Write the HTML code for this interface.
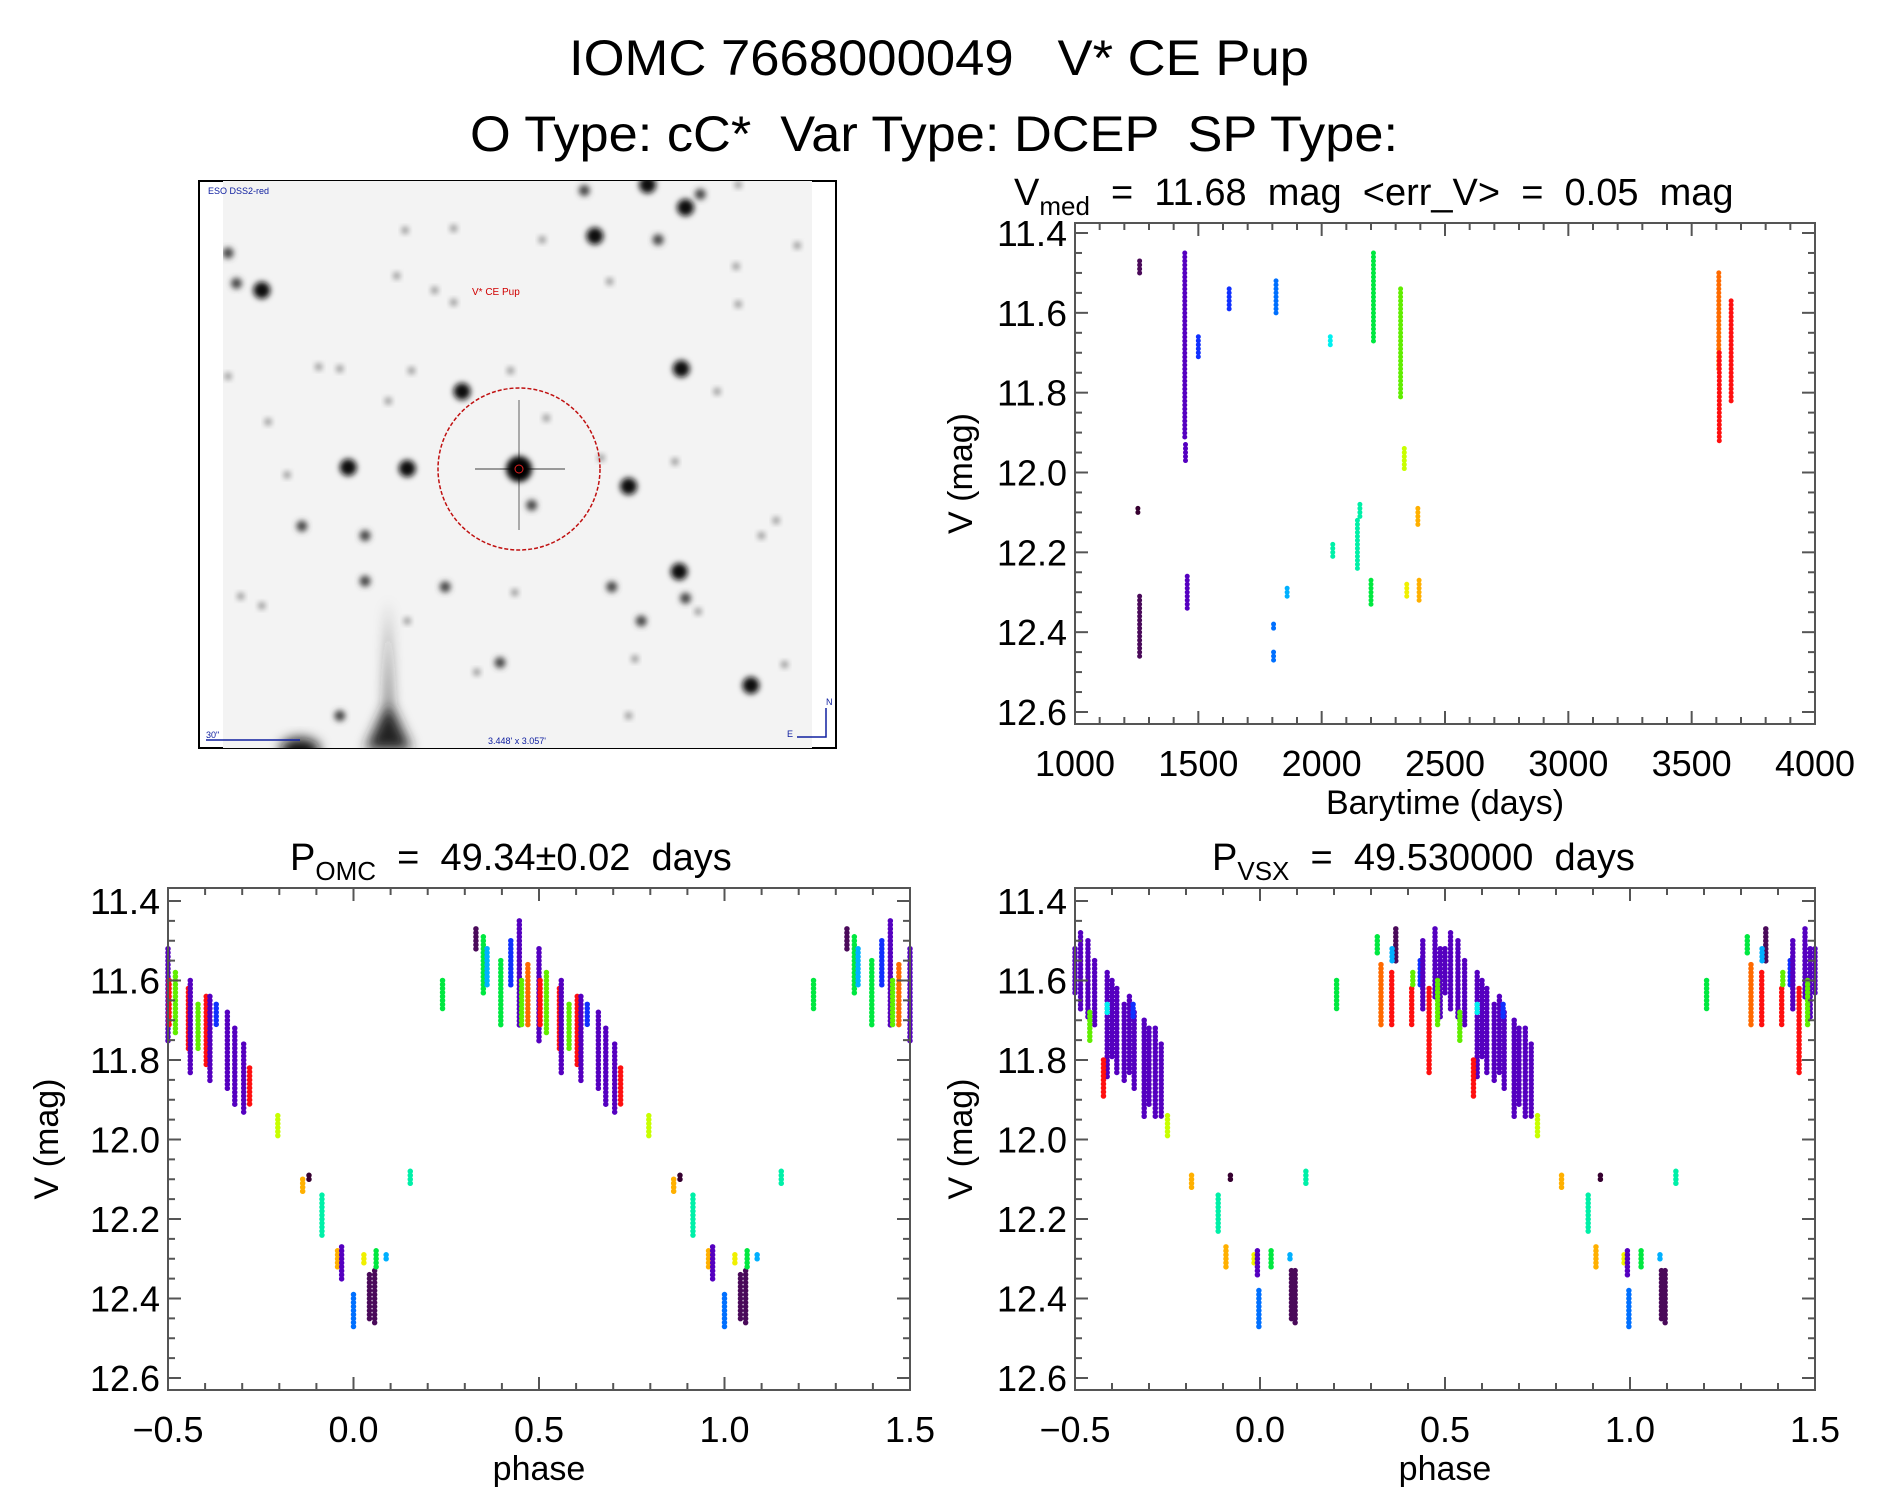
<!DOCTYPE html>
<html><head><meta charset="utf-8"><style>
html,body{margin:0;padding:0;background:#fff;}
svg text{font-family:"Liberation Sans",sans-serif;fill:#000;}
</style></head><body>
<svg id="fig" xmlns="http://www.w3.org/2000/svg" width="1889" height="1494" viewBox="0 0 1889 1494">
<defs>
<filter id="blur" x="-50%" y="-50%" width="200%" height="200%"><feGaussianBlur stdDeviation="2.8"/></filter>
<filter id="blur2" x="-50%" y="-50%" width="200%" height="200%"><feGaussianBlur stdDeviation="6"/></filter>
<clipPath id="imgclip"><rect x="223" y="181" width="589" height="567"/></clipPath>
</defs>
<rect width="1889" height="1494" fill="#fff"/>
<text x="569" y="75" font-size="50" textLength="740" lengthAdjust="spacingAndGlyphs" xml:space="preserve">IOMC 7668000049   V* CE Pup</text>
<text x="470" y="151" font-size="50" textLength="928" lengthAdjust="spacingAndGlyphs" xml:space="preserve">O Type: cC*  Var Type: DCEP  SP Type:</text>

<g id="sky">
<rect x="199" y="181" width="637" height="567" fill="none" stroke="#000" stroke-width="2"/>
<rect x="223" y="181" width="589" height="567" fill="#f3f3f3"/>
<g id="stars" clip-path="url(#imgclip)"></g>
<ellipse cx="519" cy="469" rx="81" ry="81" fill="none" stroke="#c01010" stroke-width="1.5" stroke-dasharray="4 2"/>
<text x="472" y="295" font-size="10" fill="#d00000" style="fill:#d00000">V* CE Pup</text>
<text x="208" y="194" font-size="9" style="fill:#1020a0">ESO DSS2-red</text>
<text x="206" y="738" font-size="9" style="fill:#1020a0">30"</text>
<line x1="206" y1="740" x2="300" y2="740" stroke="#1020a0" stroke-width="1.5"/>
<text x="488" y="744" font-size="9" style="fill:#1020a0">3.448' x 3.057'</text>
<path d="M826 708 V737 H797" fill="none" stroke="#1020a0" stroke-width="1.5"/>
<text x="826" y="705" font-size="9" style="fill:#1020a0">N</text>
<text x="787" y="737" font-size="9" style="fill:#1020a0">E</text>
</g>
<g id="plots"></g>
</svg>
<script>
// ---- data ----
const palette = ['#4a0a5a','#360030','#5500c0','#1030ff','#0070ff','#00b0ff','#00f0f0','#00f0a8','#00e840','#60ee00','#c8ff00','#f0f000','#ffb000','#ff6a00','#ff1010'];
// light curve streaks: [barytime, magTop, magBottom, colorIdx]
const lcTimes = [1262,1255,1262,1445,1448,1455,1500,1625,1815,1805,1805,1860,2035,2045,2145,2155,2200,2210,2320,2335,2345,2395,2390,3610,3612,3660];
const lcTop   = [11.47,12.09,12.31,11.45,11.93,12.26,11.66,11.54,11.52,12.38,12.45,12.29,11.66,12.18,12.12,12.08,12.27,11.45,11.54,11.94,12.28,12.27,12.09,11.50,11.70,11.57];
const lcBot   = [11.51,12.11,12.47,11.92,11.98,12.35,11.72,11.60,11.61,12.40,12.48,12.32,11.69,12.22,12.25,12.12,12.34,11.68,11.82,12.00,12.32,12.33,12.14,11.75,11.93,11.83];
const lcColor = [0,1,0,2,2,2,3,3,4,4,4,5,6,7,7,7,8,8,9,10,11,12,12,13,14,14];
// OMC-period folded streaks (phase in [0,1))
const omcPhase = [0.33,0.35,0.36,0.397,0.424,0.447,0.453,0.47,0.50,0.503,0.52,0.555,0.56,0.581,0.603,0.613,0.63,0.66,0.68,0.704,0.72,0.796,0.24,0.153,0.863,0.88,0.915,0.957,0.968,0.0,0.028,0.043,0.057,0.061,0.088];
const omcTop   = [11.47,11.49,11.52,11.55,11.50,11.45,11.60,11.56,11.52,11.60,11.58,11.62,11.60,11.66,11.64,11.64,11.66,11.68,11.72,11.76,11.82,11.94,11.60,12.08,12.10,12.09,12.14,12.28,12.27,12.39,12.29,12.34,12.33,12.28,12.29];
const omcBot   = [11.53,11.64,11.62,11.72,11.62,11.72,11.72,11.72,11.76,11.72,11.74,11.78,11.84,11.78,11.82,11.86,11.72,11.88,11.92,11.94,11.92,12.00,11.68,12.12,12.14,12.11,12.25,12.33,12.36,12.48,12.32,12.46,12.47,12.33,12.31];
const omcColor = [0,8,5,8,3,2,9,13,2,14,9,14,2,9,14,2,3,2,2,2,14,10,8,7,12,1,7,12,2,4,11,0,0,8,5];
// VSX-period folded streaks
const vsxPhase = [0.50,0.515,0.535,0.553,0.587,0.60,0.613,0.633,0.647,0.66,0.687,0.70,0.717,0.733,0.367,0.433,0.44,0.473,0.487,0.577,0.356,0.41,0.457,0.327,0.54,0.317,0.413,0.48,0.587,0.657,0.357,0.75,0.207,0.815,0.92,0.887,0.124,0.908,0.984,0.993,0.997,0.03,0.081,0.085,0.095];
const vsxTop   = [11.52,11.48,11.50,11.55,11.58,11.60,11.62,11.66,11.64,11.68,11.70,11.72,11.72,11.76,11.47,11.55,11.50,11.47,11.52,11.80,11.58,11.62,11.62,11.56,11.68,11.49,11.58,11.60,11.66,11.66,11.52,11.94,11.60,12.09,12.09,12.14,12.08,12.27,12.29,12.28,12.38,12.28,12.29,12.33,12.33];
const vsxBot   = [11.64,11.68,11.70,11.72,11.85,11.80,11.84,11.86,11.84,11.88,11.95,11.92,11.95,11.95,11.56,11.62,11.68,11.65,11.70,11.90,11.72,11.72,11.84,11.72,11.76,11.54,11.62,11.72,11.69,11.70,11.56,12.00,11.68,12.13,12.11,12.24,12.12,12.33,12.32,12.35,12.48,12.33,12.31,12.46,12.47];
const vsxColor = [2,2,2,2,2,2,2,2,2,2,2,2,2,2,0,3,2,2,2,14,14,14,14,13,9,8,9,9,6,3,5,10,8,12,1,7,7,12,11,2,4,8,5,0,0];
const yTicks = [11.4,11.6,11.8,12.0,12.2,12.4,12.6];
const yTickLabels = ['11.4','11.6','11.8','12.0','12.2','12.4','12.6'];
const timeTicks = [1000,1500,2000,2500,3000,3500,4000];
const timeTickLabels = ['1000','1500','2000','2500','3000','3500','4000'];
const phaseTicks = [-0.5,0,0.5,1.0,1.5];
const phaseTickLabels = ['\u22120.5','0.0','0.5','1.0','1.5'];
// sky image stars: [x, y, size] in image pixel units
const stars = [[1085,40,3],[1175,100,3],[1210,65,2],[960,175,3],[1110,185,2],[935,55,2],[835,185,1],[510,160,1],[625,155,1],[90,220,2],[110,300,2],[170,318,3],[490,280,1],[625,350,1],[580,318,1],[645,585,3],[1165,525,3],[1250,585,1],[1295,255,1],[995,295,1],[845,655,1],[375,785,3],[515,788,3],[1040,835,3],[810,885,2],[1160,1060,3],[1175,1130,2],[1070,1190,2],[1000,1100,2],[605,1100,2],[415,1085,2],[415,965,2],[265,940,2],[770,1115,1],[735,1300,2],[680,1325,1],[1330,1360,3],[355,1440,2],[1410,1305,1],[1355,965,1],[1390,925,1],[515,1190,1],[470,610,1],[305,520,1],[355,525,1],[525,530,1],[760,530,1],[975,760,1],[1150,770,1],[1055,1290,1],[1040,1440,1],[1300,40,1],[1440,200,1],[1300,355,1],[90,545,1],[1205,1165,1],[185,665,1],[230,805,1],[120,1125,1],[170,1150,1]];

const NS='http://www.w3.org/2000/svg';
function el(tag, attrs, parent){const e=document.createElementNS(NS,tag);for(const k in attrs)e.setAttribute(k,attrs[k]);parent.appendChild(e);return e;}

// sky
const sg=document.getElementById('stars');
const sx=v=>223+(v-78)/1397*589, sy=v=>181+(v-30)/1495*567;
const sizes=[0,3.5,5.5,8.5];
stars.forEach(s=>{
  const c=el('circle',{cx:sx(s[0]),cy:sy(s[1]),r:sizes[s[2]],fill:s[2]===3?'#111':(s[2]===2?'#444':'#888'),filter:'url(#blur)'},sg);
  
  
});
// main star and spikes
el('line',{x1:475,y1:469,x2:565,y2:469,stroke:'#999','stroke-width':2},sg);
el('line',{x1:519,y1:400,x2:519,y2:530,stroke:'#aaa','stroke-width':2},sg);
el('circle',{cx:519,cy:469,r:13,fill:'#000',filter:'url(#blur)'},sg);
el('path',{d:'M365 750 L386 705 L388 600 L391 705 L412 750 Z',fill:'#222',filter:'url(#blur2)'},sg);
el('ellipse',{cx:300,cy:750,rx:20,ry:12,fill:'#111',filter:'url(#blur2)'},sg);
el('circle',{cx:519,cy:469,r:4,fill:'none',stroke:'#e02020','stroke-width':1},sg);

// plotting
const plots=document.getElementById('plots');
function makePlot(cfg){
  const g=el('g',{},plots);
  
  
  const X=v=>cfg.x0+(v-cfg.xmin)/(cfg.xmax-cfg.xmin)*(cfg.x1-cfg.x0);
  const Y=v=>cfg.ya+(v-11.4)/1.2*(cfg.yb-cfg.ya);
  const mg=el('g',{},g);
  
  
  cfg.series.forEach(s=>{
    for(let i=0;i<s.x.length;i++){
      const shifts=cfg.fold?[-1,0,1]:[0];
      shifts.forEach(sh=>{
        const xv=s.x[i]+sh;
        if(xv<cfg.xmin||xv>cfg.xmax)return;
        const ln=el('line',{x1:X(xv),x2:X(xv),y1:Y(s.t[i]),y2:Y(s.b[i]),stroke:palette[s.c[i]],'stroke-width':cfg.sw,'stroke-linecap':'round','stroke-dasharray':'0 4'},mg);
        
        
      });
    }
  });
  const box=el('rect',{x:cfg.x0,y:cfg.y0,width:cfg.x1-cfg.x0,height:cfg.y1-cfg.y0,fill:'none',stroke:'#555','stroke-width':2},g);
  
  
  for(let k=0;k<=24;k++){
    const v=11.4+k*0.05, y=Y(v), maj=k%4===0, L=maj?13:7;
    el('line',{x1:cfg.x0,x2:cfg.x0+L,y1:y,y2:y,stroke:'#555','stroke-width':2},g);
    el('line',{x1:cfg.x1,x2:cfg.x1-L,y1:y,y2:y,stroke:'#555','stroke-width':2},g);
  }
  yTicks.forEach((v,i)=>{
    const t=el('text',{x:cfg.x0-8,y:Y(v)+13,'font-size':36,'text-anchor':'end',textLength:70,lengthAdjust:'spacingAndGlyphs'},g);
    t.textContent=yTickLabels[i];
    
    
  });
  const n=Math.round((cfg.xmax-cfg.xmin)/cfg.minor);
  for(let k=0;k<=n;k++){
    const v=cfg.xmin+k*cfg.minor, x=X(v), maj=k%cfg.per===0, L=maj?13:7;
    el('line',{x1:x,x2:x,y1:cfg.y1,y2:cfg.y1-L,stroke:'#555','stroke-width':2},g);
    el('line',{x1:x,x2:x,y1:cfg.y0,y2:cfg.y0+L,stroke:'#555','stroke-width':2},g);
  }
  cfg.xt.forEach((v,i)=>{
    const t=el('text',{x:X(v),y:cfg.y1+52,'font-size':36,'text-anchor':'middle'},g);
    t.textContent=cfg.xl[i];
    
    
  });
  const xl=el('text',{x:(cfg.x0+cfg.x1)/2,y:cfg.y1+90,'font-size':34,'text-anchor':'middle'},g);
  xl.textContent=cfg.xlabel;
  
  
  const yl=el('text',{x:0,y:0,'font-size':34,'text-anchor':'middle',transform:`translate(${cfg.ylx},${(cfg.y0+cfg.y1)/2}) rotate(-90)`},g);
  yl.textContent='V (mag)';
  
  
  const tt=el('text',{x:cfg.tx,y:cfg.y0-18,'font-size':38},g);
  tt.innerHTML=cfg.title;
  
  
}
makePlot({name:'light-curve-plot',x0:1075,x1:1815,y0:223,y1:724,ya:233,yb:712,xmin:1000,xmax:4000,minor:100,per:5,
  xt:timeTicks,xl:timeTickLabels,xlabel:'Barytime (days)',ylx:972,tx:1014,sw:5,fold:false,
  title:'V<tspan font-size="26" dy="10">med</tspan><tspan dy="-10" xml:space="preserve">  =  11.68  mag  &lt;err_V&gt;  =  0.05  mag</tspan>',
  series:[{x:lcTimes,t:lcTop,b:lcBot,c:lcColor}]});
makePlot({name:'omc-phase-plot',x0:168,x1:910,y0:888,y1:1390,ya:901,yb:1378,xmin:-0.5,xmax:1.5,minor:0.1,per:5,
  xt:phaseTicks,xl:phaseTickLabels,xlabel:'phase',ylx:58,tx:290,sw:5.5,fold:true,
  title:'P<tspan font-size="26" dy="10">OMC</tspan><tspan dy="-10" xml:space="preserve">  =  49.34±0.02  days</tspan>',
  series:[{x:omcPhase,t:omcTop,b:omcBot,c:omcColor}]});
makePlot({name:'vsx-phase-plot',x0:1075,x1:1815,y0:888,y1:1390,ya:901,yb:1378,xmin:-0.5,xmax:1.5,minor:0.1,per:5,
  xt:phaseTicks,xl:phaseTickLabels,xlabel:'phase',ylx:972,tx:1212,sw:5.5,fold:true,
  title:'P<tspan font-size="26" dy="10">VSX</tspan><tspan dy="-10" xml:space="preserve">  =  49.530000  days</tspan>',
  series:[{x:vsxPhase,t:vsxTop,b:vsxBot,c:vsxColor}]});
</script>
</body></html>
